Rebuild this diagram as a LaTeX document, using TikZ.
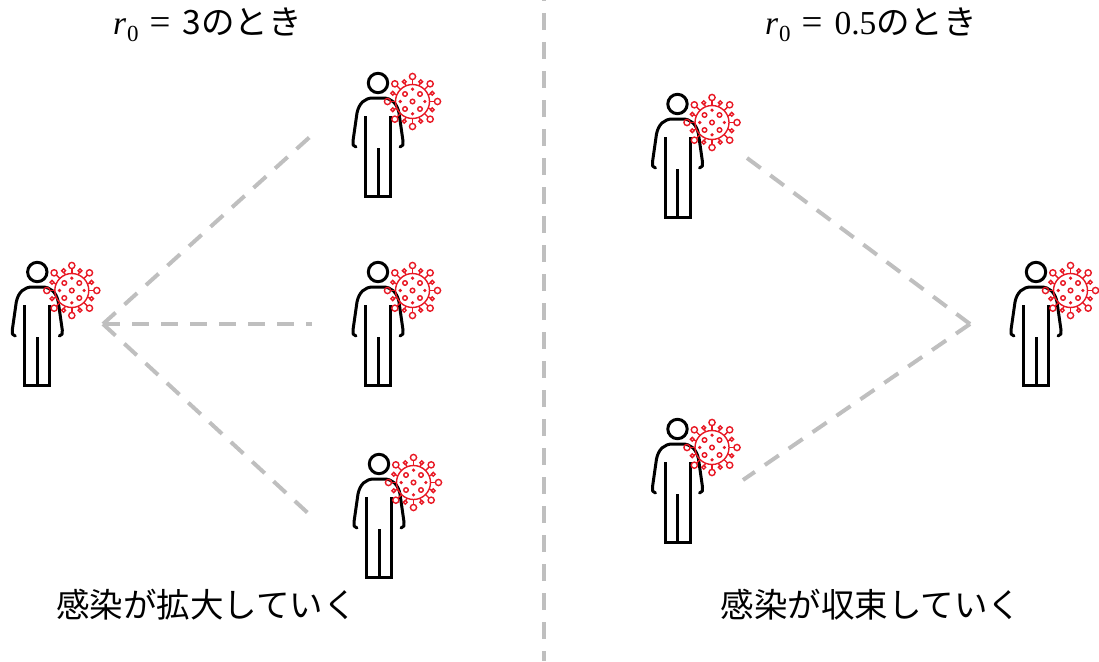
\documentclass[tikz,border=0pt]{standalone}
\usepackage{fontspec}
\newfontfamily\jpfont{Noto Sans CJK JP}
\newfontfamily\rofont{Liberation Serif}
\usetikzlibrary{calc}

\definecolor{virusred}{RGB}{232,24,36}
\definecolor{spreadgray}{RGB}{191,191,191}

\newcommand{\rzero}{{\rofont\itshape r}\kern1pt\raisebox{-6pt}{\rofont\fontsize{23}{26}\selectfont 0}\kern11pt{\rofont\fontsize{37}{40}\selectfont =}\kern12pt}

\tikzset{
  spread/.style={spreadgray,line width=4pt,dash pattern=on 17pt off 12pt},
  caption/.style={font=\jpfont\fontsize{33.5}{38}\selectfont,inner sep=0pt},
  carrier/.pic={
    % body, origin at the centre of the head
    \draw[black,line width=3pt] (0,0) circle [radius=9.7pt];
    \draw[black,line width=3pt,line cap=round,line join=round]
      (-22,64) .. controls (-25,64) and (-25.5,61) .. (-25,58)
      -- (-21,30) .. controls (-19,20) and (-13,15) .. (-5,15) -- (5,15)
      .. controls (13,15) and (19,20) .. (21,30)
      -- (25,58) .. controls (25.5,61) and (25,64) .. (22,64);
    \draw[black,line width=3pt] (-12.5,33) -- (-12.5,113.5) -- (12.5,113.5) -- (12.5,33) (0,65) -- (0,113.5);
    % virus on the shoulder
    \begin{scope}[shift={(34.5,18.5)},virusred,line width=1.4pt]
      \draw (0,0) circle [radius=17pt];
      \foreach[evaluate={\i*22.5} as \a] \i in {0,2,...,14} {
        \draw (\a:17) -- (\a:22);
        \draw (\a:25) circle [radius=3.1pt];
      }
      \foreach[evaluate={\i*22.5} as \a] \i in {1,3,...,15} {
        \draw (\a:17) -- (\a:19.5);
        \draw (\a:21.4) circle [radius=1.9pt];
      }
      \foreach \a in {0,90,180,270} {
        \fill (\a:12.3) circle [radius=1.8pt];
      }
      \foreach \a in {45,135,225,315} {
        \draw (\a:10.6) circle [radius=2.3pt];
      }
      \draw (0,0) circle [radius=2.3pt];
    \end{scope}
  }
}

\begin{document}
\begin{tikzpicture}[x=1pt,y=-1pt]
  \useasboundingbox (0,0) rectangle (1099,661);

  \coordinate (topDivide) at (544,0);
  \coordinate (bottomDivide) at (544,661);
  \draw[spread,dash phase=16pt] (topDivide) -- (bottomDivide);

  % growing side
  \pic at (37.3,272) {carrier};
  \foreach \y in {83,272} {
    \pic at (378,\y) {carrier};
  }
  \pic at (379,464) {carrier};
  \coordinate (growFrom) at (103,324);
  \coordinate (growUp) at (312,135);
  \coordinate (growMid) at (312,324);
  \coordinate (growDown) at (310,515);
  \foreach \to in {growUp,growMid,growDown} {
    \draw[spread] (growFrom) -- (\to);
  }

  % shrinking side
  \foreach \y in {104,429} {
    \pic at (677.5,\y) {carrier};
  }
  \pic at (1036,272) {carrier};
  \coordinate (shrinkTo) at (970,324);
  \coordinate (shrinkUp) at (743,155);
  \coordinate (shrinkDown) at (743,480);
  \foreach \from in {shrinkUp,shrinkDown} {
    \draw[spread] (shrinkTo) -- (\from);
  }

  \node[caption,anchor=base west] (titleGrow) at (113,35) {\rzero 3のとき};
  \node[caption,anchor=base west] (titleShrink) at (765,35) {\rzero{\rofont 0.5}のとき};
  \node[caption] (endGrow) at (206.5,605) {感染が拡大していく};
  \node[caption] (endShrink) at (871,605) {感染が収束していく};
\end{tikzpicture}
\end{document}
